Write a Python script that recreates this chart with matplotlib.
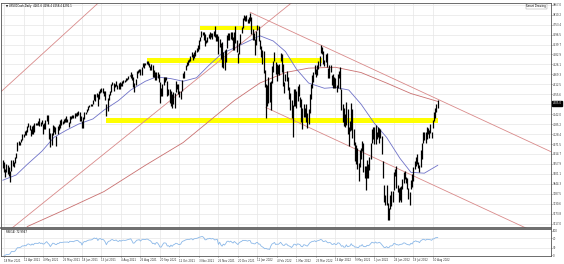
import numpy as np
import pandas as pd
import matplotlib
matplotlib.use("Agg")
import matplotlib.pyplot as plt

# US500Cash daily bars, 17 Mar 2021 .. 16 Aug 2022
closes = [
    3974, 3915, 3913, 3940, 3910, 3889, 3909, 3974, 3971, 3958, 3973,
    4020, 4078, 4074, 4080, 4097, 4129, 4128, 4142, 4125, 4170, 4185, 4163, 4135, 4173, 4135, 4180, 4188, 4187, 4183, 4211, 4181,
    4192, 4165, 4168, 4202, 4233, 4189, 4153, 4063, 4113, 4174, 4164, 4128, 4116, 4160, 4156, 4198, 4188, 4196, 4201, 4204,
    4202, 4208, 4192, 4230, 4226, 4227, 4220, 4239, 4247, 4255, 4246, 4224, 4222, 4166, 4224, 4246, 4242, 4266, 4281, 4291, 4291, 4298,
    4320, 4352, 4344, 4358, 4320, 4370, 4385, 4369, 4374, 4360, 4327, 4259, 4323, 4359, 4368, 4412, 4422, 4402, 4401, 4420, 4395,
    4387, 4423, 4403, 4430, 4437, 4432, 4436, 4448, 4460, 4468, 4480, 4449, 4400, 4406, 4442, 4480, 4486, 4497, 4470, 4509, 4529, 4523,
    4524, 4537, 4535, 4521, 4514, 4493, 4459, 4469, 4443, 4481, 4474, 4433, 4358, 4354, 4396, 4449, 4455, 4443, 4353, 4360, 4308,
    4357, 4301, 4346, 4364, 4399, 4391, 4361, 4351, 4364, 4438, 4471, 4487, 4520, 4537, 4549, 4545, 4567, 4575, 4552, 4596, 4605,
    4614, 4631, 4660, 4680, 4697, 4702, 4685, 4646, 4650, 4683, 4683, 4701, 4689, 4704, 4698, 4682, 4690, 4701, 4595, 4655, 4567,
    4513, 4577, 4538, 4592, 4686, 4701, 4668, 4712, 4669, 4635, 4710, 4669, 4621, 4568, 4649, 4697, 4726, 4791, 4786, 4793, 4778, 4766,
    4797, 4794, 4701, 4696, 4677, 4671, 4713, 4726, 4660, 4663, 4577, 4533, 4483, 4398, 4410, 4357, 4350, 4327, 4432, 4516,
    4546, 4589, 4478, 4501, 4484, 4522, 4587, 4504, 4419, 4402, 4472, 4475, 4380, 4349, 4305, 4226, 4288, 4385, 4374,
    4306, 4387, 4364, 4329, 4201, 4171, 4278, 4260, 4204, 4173, 4262, 4358, 4412, 4463, 4461, 4512, 4456, 4520, 4543, 4575, 4632, 4602, 4530,
    4546, 4583, 4525, 4481, 4500, 4488, 4413, 4397, 4447, 4392, 4391, 4463, 4459, 4394, 4272, 4297, 4176, 4184, 4288, 4132,
    4155, 4175, 4300, 4147, 4123, 3991, 4001, 3935, 3930, 4024, 4008, 4088, 3924, 3901, 3901, 3974, 3941, 3979, 4058, 4158, 4132,
    4101, 4177, 4109, 4121, 4161, 4116, 4018, 3901, 3750, 3735, 3790, 3667, 3675, 3765, 3760, 3796, 3912, 3900, 3821, 3819, 3785,
    3825, 3831, 3845, 3903, 3899, 3855, 3819, 3802, 3790, 3863, 3831, 3937, 3960, 3999, 3962, 3967, 3921, 4024, 4072, 4130,
    4119, 4091, 4155, 4152, 4145, 4140, 4122, 4210, 4207, 4280, 4297, 4305,
]
highs = [
    3983, 3970, 3930, 3956, 3949, 3942, 3919, 3978, 3981, 3969, 3995,
    4021, 4083, 4087, 4084, 4098, 4129, 4131, 4148, 4152, 4173, 4191, 4180, 4160, 4175, 4179, 4194, 4194, 4194, 4201, 4219, 4199,
    4209, 4187, 4190, 4208, 4238, 4236, 4165, 4135, 4132, 4183, 4172, 4170, 4118, 4172, 4188, 4210, 4213, 4202, 4213, 4219,
    4234, 4212, 4198, 4233, 4232, 4237, 4238, 4249, 4249, 4255, 4258, 4252, 4233, 4204, 4226, 4255, 4256, 4271, 4286, 4292, 4300, 4302,
    4321, 4356, 4357, 4362, 4356, 4372, 4386, 4394, 4394, 4377, 4376, 4298, 4336, 4359, 4373, 4415, 4423, 4422, 4416, 4430, 4411,
    4422, 4424, 4422, 4430, 4438, 4439, 4446, 4449, 4461, 4468, 4481, 4473, 4454, 4418, 4445, 4490, 4493, 4502, 4499, 4512, 4536, 4532,
    4537, 4545, 4546, 4536, 4520, 4529, 4521, 4492, 4485, 4482, 4485, 4472, 4427, 4394, 4417, 4457, 4456, 4457, 4429, 4384, 4383,
    4375, 4356, 4369, 4365, 4429, 4412, 4415, 4375, 4373, 4440, 4475, 4488, 4521, 4540, 4552, 4560, 4572, 4598, 4585, 4598, 4608,
    4620, 4635, 4664, 4684, 4719, 4714, 4710, 4698, 4667, 4685, 4698, 4714, 4703, 4708, 4718, 4744, 4698, 4702, 4686, 4672, 4646,
    4652, 4595, 4608, 4612, 4694, 4706, 4705, 4713, 4710, 4680, 4712, 4743, 4666, 4592, 4651, 4698, 4740, 4792, 4807, 4805, 4809, 4787,
    4799, 4818, 4797, 4726, 4707, 4673, 4715, 4749, 4745, 4665, 4632, 4611, 4603, 4494, 4417, 4411, 4453, 4428, 4432, 4517,
    4546, 4595, 4542, 4530, 4521, 4531, 4590, 4588, 4527, 4427, 4473, 4490, 4456, 4395, 4363, 4324, 4295, 4385, 4385,
    4373, 4401, 4416, 4342, 4327, 4277, 4299, 4276, 4303, 4247, 4271, 4358, 4412, 4465, 4481, 4522, 4501, 4521, 4546, 4576, 4637, 4627, 4603,
    4550, 4583, 4593, 4504, 4521, 4521, 4464, 4471, 4453, 4451, 4410, 4471, 4488, 4513, 4386, 4299, 4278, 4241, 4309, 4270,
    4169, 4201, 4308, 4270, 4158, 4082, 4066, 4049, 3964, 4039, 4047, 4090, 4077, 3946, 3944, 3982, 3956, 3999, 4076, 4158, 4169,
    4166, 4178, 4143, 4169, 4164, 4160, 4119, 3974, 3839, 3778, 3838, 3733, 3708, 3780, 3801, 3801, 3913, 3928, 3946, 3837, 3818,
    3829, 3832, 3871, 3910, 3919, 3886, 3879, 3819, 3796, 3864, 3903, 3939, 3975, 3999, 4012, 3971, 3954, 4039, 4075, 4141,
    4141, 4141, 4167, 4162, 4152, 4187, 4141, 4211, 4257, 4280, 4301, 4325,
]
lows = [
    3936, 3914, 3886, 3910, 3901, 3889, 3853, 3918, 3944, 3943, 3965,
    3992, 4034, 4068, 4068, 4082, 4096, 4114, 4124, 4123, 4139, 4171, 4151, 4118, 4126, 4128, 4139, 4182, 4179, 4181, 4174, 4174,
    4188, 4128, 4160, 4156, 4201, 4188, 4102, 4057, 4068, 4122, 4143, 4126, 4061, 4128, 4151, 4164, 4182, 4184, 4194, 4200,
    4197, 4198, 4167, 4191, 4215, 4218, 4219, 4222, 4233, 4234, 4239, 4203, 4204, 4165, 4165, 4217, 4242, 4255, 4266, 4281, 4287, 4288,
    4300, 4323, 4315, 4340, 4290, 4328, 4365, 4368, 4364, 4345, 4324, 4233, 4262, 4324, 4350, 4369, 4408, 4377, 4395, 4403, 4384,
    4384, 4387, 4401, 4404, 4422, 4425, 4430, 4437, 4445, 4460, 4448, 4436, 4400, 4368, 4408, 4451, 4480, 4485, 4468, 4468, 4511, 4508,
    4521, 4527, 4521, 4512, 4494, 4493, 4457, 4455, 4437, 4438, 4447, 4427, 4306, 4348, 4346, 4406, 4426, 4436, 4347, 4350, 4306,
    4289, 4279, 4303, 4278, 4371, 4386, 4360, 4343, 4330, 4377, 4446, 4447, 4493, 4518, 4522, 4538, 4546, 4568, 4551, 4562, 4572,
    4598, 4604, 4616, 4662, 4681, 4694, 4663, 4630, 4649, 4653, 4675, 4673, 4685, 4671, 4689, 4680, 4662, 4659, 4585, 4625, 4560,
    4510, 4504, 4495, 4540, 4620, 4667, 4665, 4671, 4667, 4606, 4611, 4651, 4597, 4532, 4583, 4645, 4704, 4734, 4780, 4775, 4776, 4765,
    4760, 4775, 4699, 4667, 4663, 4582, 4638, 4721, 4658, 4614, 4569, 4531, 4478, 4395, 4222, 4287, 4305, 4309, 4264, 4419,
    4483, 4545, 4470, 4433, 4471, 4465, 4547, 4484, 4401, 4364, 4429, 4430, 4378, 4327, 4267, 4222, 4114, 4287, 4287,
    4279, 4320, 4345, 4285, 4200, 4157, 4224, 4224, 4200, 4161, 4188, 4251, 4329, 4390, 4424, 4470, 4455, 4466, 4501, 4517, 4589, 4588, 4530,
    4518, 4540, 4514, 4451, 4450, 4485, 4411, 4394, 4392, 4390, 4370, 4390, 4449, 4385, 4268, 4200, 4175, 4170, 4181, 4129,
    4062, 4145, 4152, 4106, 4068, 3976, 3958, 3928, 3859, 3939, 3985, 4033, 3913, 3876, 3810, 3875, 3875, 3926, 3984, 4077, 4098,
    4074, 4074, 4098, 4110, 4080, 4108, 4017, 3876, 3743, 3724, 3722, 3640, 3637, 3698, 3718, 3743, 3810, 3889, 3820, 3800, 3739,
    3752, 3743, 3813, 3847, 3873, 3850, 3813, 3759, 3722, 3817, 3827, 3860, 3930, 3946, 3955, 3936, 3911, 3943, 3988, 4079,
    4096, 4079, 4098, 4128, 4107, 4133, 4107, 4163, 4201, 4220, 4256, 4277,
]
holidays = ["2021-04-02", "2021-05-31", "2021-07-05", "2021-09-06", "2021-11-25", "2021-12-24",
            "2022-01-17", "2022-02-21", "2022-04-15", "2022-05-30", "2022-06-20", "2022-07-04"]

# moving averages read at a few dates
ma50_dates = ["2021-03-17", "2021-04-01", "2021-04-15", "2021-05-03", "2021-05-17", "2021-06-01", "2021-06-15",
              "2021-07-01", "2021-07-15", "2021-08-02", "2021-08-16", "2021-09-01", "2021-09-15", "2021-10-01",
              "2021-10-15", "2021-11-01", "2021-11-15", "2021-12-01", "2021-12-15", "2022-01-03", "2022-01-14",
              "2022-02-01", "2022-02-15", "2022-03-01", "2022-03-15", "2022-04-01", "2022-04-14", "2022-05-02",
              "2022-05-16", "2022-06-01", "2022-06-15", "2022-07-01", "2022-07-15", "2022-08-01", "2022-08-16"]
ma50_vals = [3865, 3895, 3955, 4030, 4110, 4150, 4185, 4215, 4265, 4320, 4380, 4430, 4455, 4445, 4430, 4450,
             4520, 4590, 4620, 4660, 4690, 4660, 4600, 4500, 4420, 4390, 4395, 4380, 4300, 4190, 4110, 3990,
             3910, 3905, 3950]
ma200_dates = ["2021-04-15", "2021-06-01", "2021-07-15", "2021-09-01", "2021-10-15", "2021-11-15", "2021-12-15",
               "2022-01-14", "2022-02-15", "2022-03-15", "2022-04-14", "2022-05-16", "2022-06-15", "2022-07-15",
               "2022-08-16"]
ma200_vals = [3600, 3700, 3800, 3950, 4080, 4200, 4320, 4420, 4480, 4505, 4510, 4480, 4420, 4360, 4315]

# drawn objects: (date, price) anchors
zones = [("2021-11-04", "2022-01-13", 4735), ("2021-09-02", "2022-03-30", 4548), ("2021-07-19", "2022-08-16", 4205)]
asc_lines = [(("2021-03-30", 3600), ("2022-02-15", 4850)), (("2021-03-30", 4437), ("2021-07-13", 4894))]
desc_upper = (("2022-01-04", 4824), ("2022-03-29", 4637))
desc_lower_start = ("2022-01-24", 4280)

dates = [d for d in pd.bdate_range("2021-03-17", "2022-08-16") if d.strftime("%Y-%m-%d") not in holidays]
assert len(dates) == len(closes) == len(highs) == len(lows), (len(dates), len(closes), len(highs), len(lows))
pos = {d.strftime("%Y-%m-%d"): i for i, d in enumerate(dates)}
idx = np.arange(len(dates))

XMAX = 450
YMIN, YMAX = 3592, 4877
RED = "#d98a8a"
GRID = "#e6e6e6"
FS = 1.9

fig = plt.figure(figsize=(5.64, 2.64), dpi=100)
ax = fig.add_axes([1 / 564, 1 - 228 / 264, 550 / 564, 225 / 264])
ax2 = fig.add_axes([1 / 564, 1 - 256 / 264, 550 / 564, 27 / 264])

# grid
price_ticks = np.linspace(YMIN + 25, YMAX - 10, 23)
label_bars = list(range(1, len(dates), 16))
for a in (ax, ax2):
    a.set_xlim(-1.5, XMAX)
    for b in label_bars:
        a.axvline(b, color=GRID, lw=0.5, zorder=0)
for p in price_ticks:
    ax.axhline(p, color=GRID, lw=0.5, zorder=0)

# yellow zones
for d0, d1, p in zones:
    ax.fill_between([pos[d0], pos[d1]], p - 13, p + 13, color="#ffff00", lw=0, zorder=1)

# moving averages
ax.plot([pos[d] for d in ma200_dates], ma200_vals, color="#c97070", lw=0.6, zorder=2)
ax.plot([pos[d] for d in ma50_dates], ma50_vals, color="#6f72c8", lw=0.6, zorder=2)

# trend lines
for (d0, p0), (d1, p1) in asc_lines:
    ax.axline((pos[d0], p0), (pos[d1], p1), color=RED, lw=0.6, zorder=2)
(u0, up0), (u1, up1) = desc_upper
slope = (up1 - up0) / (pos[u1] - pos[u0])
ax.plot([pos[u0], XMAX], [up0, up0 + slope * (XMAX - pos[u0])], color=RED, lw=0.6, zorder=2)
l0, lp0 = desc_lower_start
ax.plot([pos[l0], XMAX], [lp0, lp0 + slope * (XMAX - pos[l0])], color=RED, lw=0.6, zorder=2)

# bars
ax.vlines(idx, lows, highs, color="black", lw=0.9, zorder=3)

ax.set_ylim(YMIN, YMAX)
ax.yaxis.tick_right()
ax.set_yticks(price_ticks)
ax.set_yticklabels([f"{p:.1f}" for p in price_ticks])
ax.set_xticks([])
ax.tick_params(axis="y", labelsize=FS, length=1.0, width=0.4, pad=0.5, colors="#333333")

ax.text(3, YMAX - 8, "▼ US500Cash,Daily  4261.6 4296.4 4258.4 4292.1", fontsize=FS, va="top", ha="left")
ax.text(XMAX - 4, YMAX - 8, "Smart Drawing", fontsize=FS, va="top", ha="right",
        bbox=dict(boxstyle="square,pad=0.2", fc="white", ec="#999999", lw=0.3))
ax.annotate(f"{closes[-1]:.1f}", xy=(1.0, closes[-1]), xycoords=("axes fraction", "data"),
            xytext=(1.0, 0), textcoords="offset points", fontsize=FS, color="white", va="center",
            bbox=dict(boxstyle="square,pad=0.15", fc="black", ec="black"))

# RSI(14)
c = pd.Series(closes, dtype=float)
delta = c.diff()
gain = delta.clip(lower=0).ewm(alpha=1 / 14, adjust=False).mean()
loss = (-delta.clip(upper=0)).ewm(alpha=1 / 14, adjust=False).mean()
rsi = 100 - 100 / (1 + gain / loss)
ax2.plot(idx, rsi, color="#8bb8e8", lw=0.6)
ax2.set_ylim(-3, 108)
ax2.yaxis.tick_right()
ax2.set_yticks([0, 30, 70, 100])
ax2.set_yticklabels(["0", "30", "70", "100"])
ax2.tick_params(axis="y", labelsize=FS, length=1.0, width=0.4, pad=0.5, colors="#333333")
ax2.set_xticks(label_bars)
ax2.set_xticklabels([f"{dates[b].day} {dates[b]:%b %Y}" for b in label_bars], ha="left")
ax2.tick_params(axis="x", labelsize=FS, length=1.0, width=0.4, pad=0.8, colors="#333333")
ax2.text(3, 104, f"RSI(14) {rsi.iloc[-1]:.4f}", fontsize=FS, va="top", ha="left")
for p in (30, 70):
    ax2.axhline(p, color=GRID, lw=0.5, zorder=0)

for a in (ax, ax2):
    for s in a.spines.values():
        s.set_color("#555555")
        s.set_linewidth(0.6)
ax.spines["bottom"].set_linewidth(1.2)

fig.savefig("out.png", dpi=100)
